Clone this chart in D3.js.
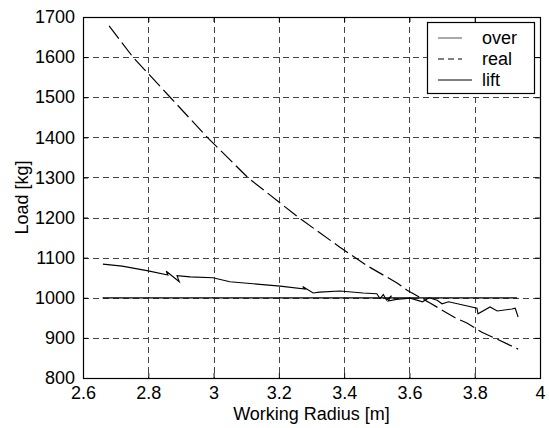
<!DOCTYPE html>
<html>
<head>
<meta charset="utf-8">
<script src="https://cdn.jsdelivr.net/npm/d3@7"></script>
<style>
  body { margin: 0; background: #fff; }
  text { font-family: "Liberation Sans", Arial, sans-serif; }
</style>
</head>
<body>
<script>
  const width = 549, height = 428;
  const margin = { top: 17, right: 9, bottom: 50, left: 83 };

  // Data
  const xTicks = [2.6, 2.8, 3.0, 3.2, 3.4, 3.6, 3.8, 4.0];
  const yTicks = [800, 900, 1000, 1100, 1200, 1300, 1400, 1500, 1600, 1700];

  const overX = [2.66, 3.93];
  const overY = [1000, 1000];

  const realX = [2.68, 2.753, 2.867, 2.983, 3.106, 3.259, 3.387, 3.47, 3.562, 3.593, 3.663, 3.74, 3.776, 3.822, 3.868, 3.933];
  const realY = [1678, 1600, 1500, 1398, 1299, 1201, 1126, 1080, 1037, 1019, 987, 950, 937, 914, 897, 872];

  const liftX = [2.661, 2.72, 2.8, 2.86, 2.855, 2.895, 2.888, 2.928, 2.998, 3.05, 3.204, 3.28, 3.273, 3.305, 3.325, 3.387, 3.458, 3.50, 3.51, 3.52, 3.53, 3.545, 3.535, 3.56, 3.602, 3.64, 3.66, 3.685, 3.70, 3.72, 3.764, 3.807, 3.81, 3.847, 3.869, 3.914, 3.924, 3.933];
  const liftY = [1084, 1079, 1067, 1057, 1066, 1040, 1055, 1052, 1050, 1040, 1029, 1022, 1028, 1012, 1014, 1017, 1012, 1010, 998, 1008, 994, 1005, 992, 996, 999, 990, 1000, 994, 985, 990, 982, 974, 960, 977, 967, 972, 974, 952];

  const x = d3.scaleLinear().domain([2.6, 4]).range([margin.left, width - margin.right]);
  const y = d3.scaleLinear().domain([800, 1700]).range([height - margin.bottom, margin.top]);

  const svg = d3.select("body").append("svg")
    .attr("width", width)
    .attr("height", height);

  const x0 = margin.left, x1 = width - margin.right;
  const y0 = margin.top, y1 = height - margin.bottom;
  const fontSize = 18;

  // Grid lines
  const grid = svg.append("g").attr("stroke", "#444").attr("stroke-width", 1).attr("stroke-dasharray", "6,4");
  grid.selectAll(".gx").data(xTicks.slice(1, -1)).join("line")
    .attr("x1", d => Math.round(x(d)) + 0.5).attr("x2", d => Math.round(x(d)) + 0.5)
    .attr("y1", y0).attr("y2", y1);
  grid.selectAll(".gy").data(yTicks.slice(1, -1)).join("line")
    .attr("y1", d => Math.round(y(d)) + 0.5).attr("y2", d => Math.round(y(d)) + 0.5)
    .attr("x1", x0).attr("x2", x1);

  // Axes with inward ticks
  const fmt = d => String(+d.toFixed(1));
  svg.append("g").attr("transform", `translate(0,${y1})`)
    .call(d3.axisBottom(x).tickValues(xTicks).tickFormat(fmt).tickSizeInner(-5).tickSizeOuter(0).tickPadding(8))
    .call(g => g.select(".domain").remove());
  svg.append("g").attr("transform", `translate(${x0},0)`)
    .call(d3.axisLeft(y).tickValues(yTicks).tickFormat(d3.format("d")).tickSizeInner(-5).tickSizeOuter(0).tickPadding(8))
    .call(g => g.select(".domain").remove());
  svg.append("g").attr("transform", `translate(0,${y0})`)
    .call(d3.axisTop(x).tickValues(xTicks).tickFormat("").tickSizeInner(-5).tickSizeOuter(0))
    .call(g => g.select(".domain").remove());
  svg.append("g").attr("transform", `translate(${x1},0)`)
    .call(d3.axisRight(y).tickValues(yTicks).tickFormat("").tickSizeInner(-5).tickSizeOuter(0))
    .call(g => g.select(".domain").remove());

  svg.selectAll(".tick text").attr("font-size", fontSize).attr("fill", "#000")
    .attr("font-family", "Liberation Sans, Arial, sans-serif");
  svg.selectAll(".tick line").attr("stroke", "#000");

  svg.append("rect")
    .attr("x", x0 + 0.5).attr("y", y0 + 0.5)
    .attr("width", x1 - x0).attr("height", y1 - y0)
    .attr("fill", "none").attr("stroke", "#000").attr("stroke-width", 1.2);

  // Series
  const line = d3.line().x(d => x(d[0])).y(d => y(d[1]));
  const zip = (a, b) => a.map((v, i) => [v, b[i]]);

  svg.append("path").datum(zip(overX, overY))
    .attr("d", line).attr("fill", "none").attr("stroke", "#000").attr("stroke-width", 1.2);
  svg.append("path").datum(zip(liftX, liftY))
    .attr("d", line).attr("fill", "none").attr("stroke", "#000").attr("stroke-width", 1.1);
  svg.append("path").datum(zip(realX, realY))
    .attr("d", line).attr("fill", "none").attr("stroke", "#000").attr("stroke-width", 1.2)
    .attr("stroke-dasharray", "16,5");

  // Axis labels
  svg.append("text")
    .attr("x", (x0 + x1) / 2).attr("y", 420)
    .attr("text-anchor", "middle").attr("font-size", fontSize)
    .text("Working Radius [m]");
  svg.append("text")
    .attr("transform", `translate(28,${(y0 + y1) / 2}) rotate(-90)`)
    .attr("text-anchor", "middle").attr("font-size", fontSize)
    .text("Load [kg]");

  // Legend
  const legendNames = ["over", "real", "lift"];
  const legendDash = [null, "6,4", null];
  const legend = svg.append("g").attr("transform", "translate(427,22)");
  legend.append("rect")
    .attr("x", 0.5).attr("y", 0.5).attr("width", 107).attr("height", 71)
    .attr("fill", "#fff").attr("stroke", "#000").attr("stroke-width", 1.2);
  legendNames.forEach((name, i) => {
    const ly = 16 + i * 21;
    legend.append("line")
      .attr("x1", 11).attr("x2", i === 2 ? 45 : 35).attr("y1", ly).attr("y2", ly)
      .attr("stroke", i === 0 ? "#555" : "#000").attr("stroke-width", 1)
      .attr("stroke-dasharray", legendDash[i]);
    legend.append("text")
      .attr("x", 55).attr("y", ly + 6)
      .attr("font-size", fontSize)
      .text(name);
  });
</script>
</body>
</html>
